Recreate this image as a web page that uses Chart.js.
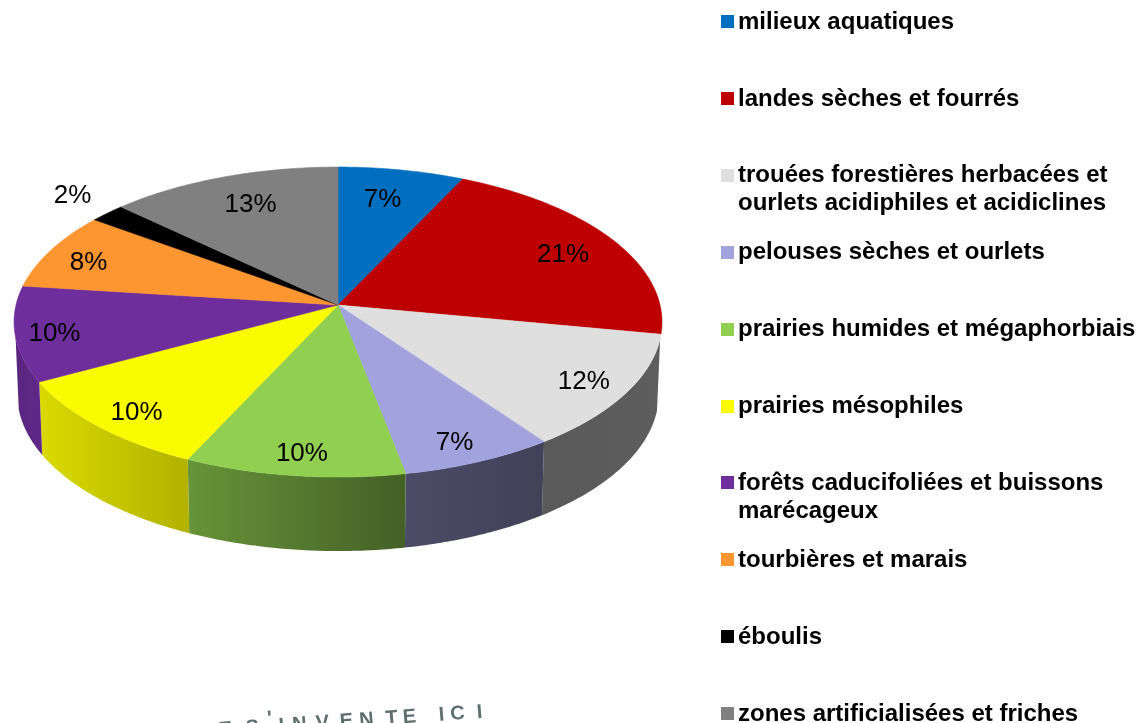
<!DOCTYPE html>
<html lang="fr">
<head>
<meta charset="utf-8">
<title>Milieux</title>
<script src="https://cdn.jsdelivr.net/npm/chart.js@4/dist/chart.umd.js"></script>
<style>
html,body{margin:0;padding:0;background:#fff;overflow:hidden}
canvas{display:block}
</style>
</head>
<body>
<canvas id="c" width="1137" height="723"></canvas>
<script>
const categories = [
  "milieux aquatiques",
  "landes sèches et fourrés",
  ["trouées forestières herbacées et", "ourlets acidiphiles et acidiclines"],
  "pelouses sèches et ourlets",
  "prairies humides et mégaphorbiais",
  "prairies mésophiles",
  ["forêts caducifoliées et buissons", "marécageux"],
  "tourbières et marais",
  "éboulis",
  "zones artificialisées et friches"
];
const shares = [7.0, 21.0, 12.1, 6.9, 9.9, 10.2, 9.9, 8.1, 2.0, 12.9];
const sliceLabels = ["7%", "21%", "12%", "7%", "10%", "10%", "10%", "8%", "2%", "13%"];
const colors = ["#006FBF", "#BE0000", "#DFDFDF", "#A2A2DD", "#91CF50", "#FBFB00", "#6E2E9C", "#FD9630", "#000000", "#808080"];
const labelRadii = [0.78, 0.805, 0.86, 0.873, 0.875, 0.867, 0.88, 0.853, 1.197, 0.777];
const labelNudgeX = [-6, 3, 0, -5, 2, 4, 0, -3, 7, 4];
const labelNudgeY = [2, 4, 2, 3, 2, 4, 4, 5, -1, 1];
const watermarkGlyphs = ["M","I","E","S","'","I","N","V","E","N","T","E","I","C","I"];
const watermarkX = [186, 204, 226, 253, 270, 282, 300, 323, 347, 367, 392, 410, 442, 458, 480];

// perspective settings of the 3D pie
const persp = 0.11, squash = 0.4755, apexLift = 17, depth = 72, baseShrink = 0.99, wallFrom = 0.2;
const shadeStops = [[0, .80], [.04, .87], [.27, .71], [.6, .47], [.81, .40], [1, .42]];

function project(el, a, bottom) {
  const R = el.outerRadius, u = Math.cos(a), v = Math.sin(a), w = 1 / (1 - persp * v);
  let x = u * R * w, y = v * R * squash * w + el.y - apexLift;
  if (bottom) { x *= baseShrink; y += depth + 2 * v; }
  return [el.x + x, y];
}
function shade(hex, f) {
  const n = parseInt(hex.slice(1), 16);
  return `rgb(${Math.round((n >> 16 & 255) * f)},${Math.round((n >> 8 & 255) * f)},${Math.round((n & 255) * f)})`;
}
function wallFill(ctx, chart, color) {
  const a = chart.chartArea, g = ctx.createLinearGradient(a.left, 0, a.right, 0);
  shadeStops.forEach(s => g.addColorStop(s[0], shade(color, s[1])));
  return g;
}

const pie3d = {
  id: 'pie3d',
  beforeDatasetsDraw(chart) {
    const ctx = chart.ctx, arcs = chart.getDatasetMeta(0).data, steps = 60;
    // side wall
    arcs.forEach((el, i) => {
      const s = el.startAngle, e = el.endAngle;
      const top = [], bot = [];
      for (let k = 0; k <= steps; k++) {
        const a = s + (e - s) * k / steps;
        if (Math.sin(a) < wallFrom) continue;
        top.push(project(el, a, false));
        bot.push(project(el, a, true));
      }
      if (top.length < 2) return;
      ctx.beginPath();
      top.forEach((p, k) => k ? ctx.lineTo(p[0], p[1]) : ctx.moveTo(p[0], p[1]));
      bot.reverse().forEach(p => ctx.lineTo(p[0], p[1]));
      ctx.closePath();
      ctx.fillStyle = wallFill(ctx, chart, colors[i]);
      ctx.fill();
    });
    // top face
    arcs.forEach((el, i) => {
      ctx.beginPath();
      ctx.moveTo(el.x, el.y - apexLift);
      for (let k = 0; k <= steps; k++) {
        const p = project(el, el.startAngle + (el.endAngle - el.startAngle) * k / steps, false);
        ctx.lineTo(p[0], p[1]);
      }
      ctx.closePath();
      ctx.fillStyle = colors[i];
      ctx.strokeStyle = colors[i];
      ctx.lineWidth = 0.6;
      ctx.fill();
      ctx.stroke();
    });
    // percent labels
    ctx.fillStyle = '#000';
    ctx.font = '26px "Liberation Sans"';
    ctx.textAlign = 'center';
    ctx.textBaseline = 'middle';
    arcs.forEach((el, i) => {
      const a = (el.startAngle + el.endAngle) / 2, r = labelRadii[i];
      const u = Math.cos(a) * r, v = Math.sin(a) * r, w = 1 / (1 - persp * v);
      ctx.fillText(sliceLabels[i],
        el.x + u * el.outerRadius * w + labelNudgeX[i],
        el.y - apexLift + v * el.outerRadius * squash * w + labelNudgeY[i]);
    });
    return false;
  },
  afterDraw(chart) {
    const ctx = chart.ctx;
    // legend
    ctx.textAlign = 'left';
    ctx.textBaseline = 'middle';
    ctx.font = 'bold 24px "Liberation Sans"';
    categories.forEach((c, i) => {
      const y = 21 + i * 76.9;
      ctx.fillStyle = colors[i];
      ctx.fillRect(721, Math.round(y) - 6, 13, 13);
      ctx.fillStyle = '#000';
      [].concat(c).forEach((t, k) => ctx.fillText(t, 738, y + 1 + k * 27.8));
    });
    // watermark, cut by the bottom edge
    ctx.fillStyle = '#5f6f6f';
    ctx.font = 'bold 20px "Liberation Sans"';
    ctx.textBaseline = 'alphabetic';
    ctx.textAlign = 'center';
    watermarkGlyphs.forEach((g, i) => {
      ctx.save();
      ctx.translate(watermarkX[i], 738 - (watermarkX[i] - 186) * 0.068 - (g === "'" ? 8 : 0));
      ctx.rotate(-0.08);
      ctx.fillText(g, 0, 0);
      ctx.restore();
    });
  }
};

new Chart(document.getElementById('c'), {
  type: 'pie',
  data: {
    labels: categories,
    datasets: [{ data: shares, backgroundColor: colors, borderWidth: 0 }]
  },
  options: {
    responsive: false,
    animation: false,
    layout: { padding: { left: 13, right: 474, top: 0, bottom: 79 } },
    plugins: { legend: { display: false }, tooltip: { enabled: false } }
  },
  plugins: [pie3d]
});
</script>
</body>
</html>
